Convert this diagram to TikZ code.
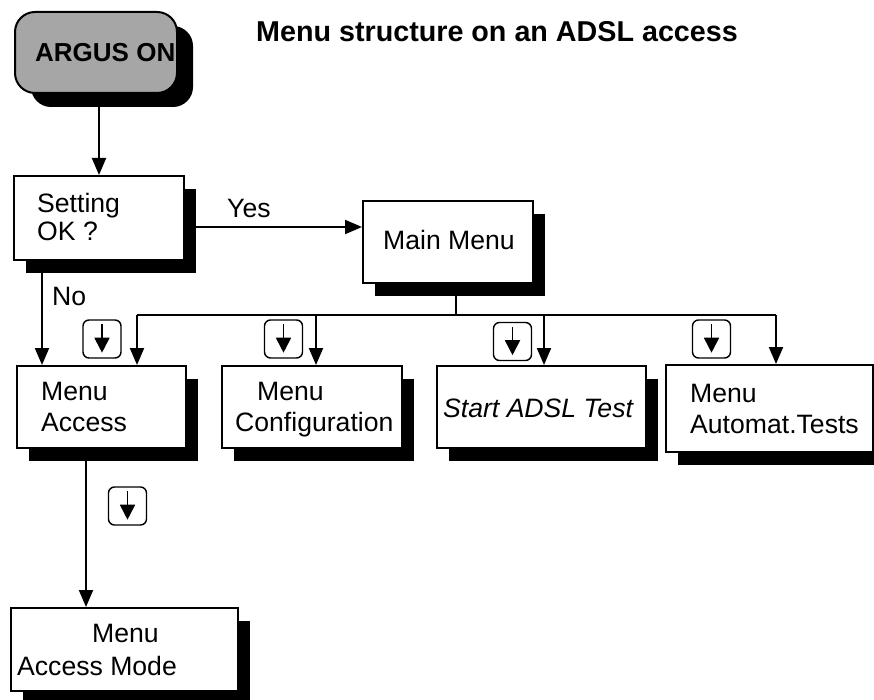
\documentclass[tikz,border=0pt]{standalone}
\usepackage{fontspec}
\setmainfont{Liberation Sans}
\usetikzlibrary{arrows.meta,shadows}
\definecolor{argusgray}{HTML}{A6A6A6}
\begin{document}
\begin{tikzpicture}[x=1pt,y=-1pt,
  txt/.style={anchor=base west, inner sep=0pt, font=\fontsize{26.6}{30}\selectfont},
  mbox/.style={draw, line width=2pt, fill=white, inner sep=0pt,
    drop shadow={shadow xshift=12pt, shadow yshift=-13pt, fill=black, opacity=1}},
  argusbox/.style={draw, line width=2pt, fill=argusgray, rounded corners=20pt, inner sep=0pt,
    drop shadow={shadow xshift=16pt, shadow yshift=-14pt, fill=black, opacity=1}},
  arr/.style={line width=2pt, -{Triangle[length=17pt,width=14pt]}},
  conn/.style={line width=2pt},
  keybox/.style={draw, line width=1.4pt, rounded corners=6pt, minimum width=38pt, minimum height=38pt, inner sep=0pt},
  keyarr/.style={line width=1.8pt, -{Triangle[length=15pt,width=15pt]}}
]
\useasboundingbox (0,0) rectangle (874,700);
\fill[white] (0,0) rectangle (874,700);

% title
\node[anchor=base west, inner sep=0pt, font=\bfseries\fontsize{28.7}{34}\selectfont] (title) at (256,42) {Menu structure on an ADSL access};

% boxes
\node[argusbox, minimum width=162pt, minimum height=81pt] (argus) at (96,52.5) {};
\node[mbox, minimum width=170pt, minimum height=84pt] (setting) at (99,218) {};
\node[mbox, minimum width=170pt, minimum height=82pt] (main) at (448,242) {};
\node[mbox, minimum width=169pt, minimum height=82pt] (access) at (101.5,407) {};
\node[mbox, minimum width=180pt, minimum height=82pt] (config) at (312,407) {};
\node[mbox, minimum width=209pt, minimum height=82pt] (start) at (541.5,407) {};
\node[mbox, minimum width=207pt, minimum height=87pt] (automat) at (769.5,408.5) {};
\node[mbox, minimum width=227pt, minimum height=83pt] (accmode) at (124.5,649.5) {};

% texts
\node[txt, font=\bfseries\fontsize{26}{30}\selectfont] (argus-t) at (35,62) {ARGUS ON};
\node[txt] (setting-t1) at (37,213) {Setting};
\node[txt] (setting-t2) at (37,241) {OK ?};
\node[txt] (yes) at (227,218) {Yes};
\node[txt] (main-t) at (383,250) {Main Menu};
\node[txt] (no) at (52,305) {No};
\node[txt] (access-t1) at (41,400) {Menu};
\node[txt] (access-t2) at (41,431) {Access};
\node[txt] (config-t1) at (257,400) {Menu};
\node[txt] (config-t2) at (235,431) {Configuration};
\node[txt, font=\itshape\fontsize{26.6}{30}\selectfont] (start-t) at (443,417) {Start ADSL Test};
\node[txt] (automat-t1) at (690,402) {Menu};
\node[txt] (automat-t2) at (690,433) {Automat.Tests};
\node[txt] (accmode-t1) at (92,642) {Menu};
\node[txt] (accmode-t2) at (17,675) {Access Mode};

% keys
\foreach \k/\x/\y in {k1/102/339, k2/283.5/339, k3/512.5/341.5, k4/711.5/339, k5/127.5/506}{
  \node[keybox] (\k) at (\x,\y) {};
  \draw[keyarr] ([yshift=-5pt]\k.north) -- ([yshift=6pt]\k.south);
}

% connectors
\draw[arr] (argus.south -| setting.north) -- (setting.north);
\draw[arr] ([yshift=-9pt]setting.east) -- ([yshift=-9pt]setting.east -| main.west);
\draw[arr] ([xshift=29pt]setting.south west) -- ([xshift=29pt]setting.south west |- access.north);

\coordinate (busL) at (137,315);
\coordinate (busR) at (776,315);
\draw[conn] ([xshift=8pt]main.south) -- ([xshift=8pt]main.south |- busL);
\draw[conn] (busL) -- (busR);
\draw[arr] (busL) -- (busL |- access.north);
\draw[arr] ([xshift=4pt]config.north |- busL) -- ([xshift=4pt]config.north);
\draw[arr] ([xshift=2.5pt]start.north |- busL) -- ([xshift=2.5pt]start.north);
\draw[arr] (busR) -- (busR |- automat.north);

\draw[arr] ([xshift=-15.5pt]access.south) -- ([xshift=-15.5pt]access.south |- accmode.north);
\end{tikzpicture}
\end{document}
